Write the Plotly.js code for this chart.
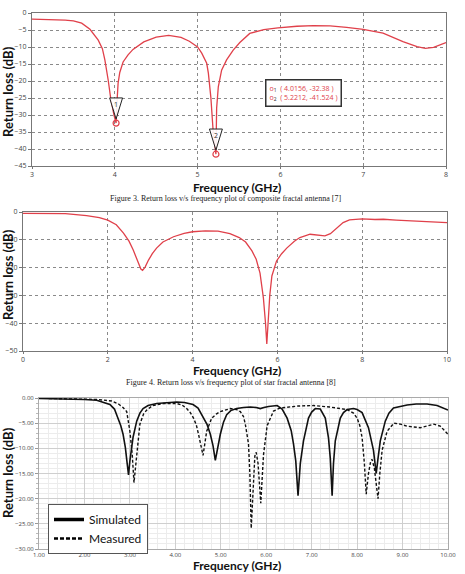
<!DOCTYPE html>
<html><head><meta charset="utf-8">
<script src="https://cdn.plot.ly/plotly-3.0.1.min.js"></script>
<style>body{margin:0;background:#fff}</style>
</head><body><div id="chart" style="width:465px;height:574px"></div>
<script>
// ---------- Figure 3: composite fractal antenna ----------
const freq1 = [3.0,3.2,3.4,3.5,3.6,3.7,3.8,3.85,3.88,3.92,3.95,3.99,4.0156,4.03,4.04,4.06,4.1,4.16,4.22,4.35,4.5,4.65,4.8,4.9,5.0,5.05,5.11,5.13,5.16,5.19,5.2212,5.23,5.25,5.29,5.35,5.43,5.51,5.63,5.8,5.97,6.2,6.4,6.6,6.8,7.0,7.24,7.48,7.65,7.75,7.85,8.0];
const rl1   = [-1.8,-1.9,-2.1,-2.3,-3.0,-4.8,-8.0,-10.5,-13.8,-19.7,-25,-30,-32.38,-24.8,-20.6,-17.5,-14.4,-12.3,-10.7,-8.5,-7.1,-6.6,-7.2,-8.3,-10,-11.8,-14.8,-17.7,-24.8,-35.5,-41.524,-28,-21.7,-16.8,-13.8,-10.9,-8.7,-6.0,-4.9,-4.4,-3.9,-3.7,-3.8,-4.2,-4.8,-5.9,-8.4,-9.9,-10.4,-10.1,-8.7];
const markerFreq1 = [4.0156, 5.2212];
const markerRL1 = [-32.38, -41.524];
const markerIds1 = ['1', '2'];
const yTicks1 = [0,-5,-10,-15,-20,-25,-30,-35,-40,-45];
const xTicks1 = [3,4,5,6,7,8];

// ---------- Figure 4: star fractal antenna ----------
const freq2 = [0,0.5,1.0,1.5,1.8,2.0,2.2,2.37,2.5,2.6,2.7,2.78,2.82,2.88,2.96,3.05,3.15,3.3,3.55,3.8,4.0,4.3,4.6,4.88,5.1,5.25,5.4,5.5,5.59,5.67,5.72,5.75,5.78,5.82,5.87,5.98,6.1,6.22,6.4,6.53,6.77,6.95,7.12,7.25,7.4,7.55,7.7,8.0,8.3,8.5,8.8,9.2,9.6,10.0];
const rl2   = [-0.5,-0.5,-0.6,-1.3,-2.0,-2.9,-4.6,-7.6,-10.5,-13.7,-17.5,-20.5,-21,-19.8,-17.3,-15,-13,-10.8,-8.9,-7.7,-7.1,-6.8,-6.9,-7.8,-9.2,-10.8,-14,-17,-22,-31,-40,-47.5,-40,-30,-23,-17.6,-15,-13,-10.5,-9.2,-8.0,-8.2,-8.6,-7.8,-5.9,-3.8,-2.8,-2.5,-2.7,-2.6,-2.9,-3.2,-3.5,-3.8];
const yTicks2 = [0,-10,-20,-30,-40,-50];
const xTicks2 = [0,2,4,6,8,10];

// ---------- Figure 5: simulated vs measured ----------
const freqSim3 = [1.0,1.5,2.0,2.27,2.45,2.56,2.66,2.74,2.8,2.85,2.9,2.94,2.97,3.0,3.04,3.07,3.15,3.22,3.29,3.4,3.59,3.81,4.03,4.2,4.39,4.5,4.61,4.7,4.77,4.83,4.88,4.93,4.99,5.06,5.13,5.22,5.35,5.5,5.65,5.78,5.87,5.95,6.05,6.24,6.35,6.46,6.55,6.6,6.65,6.7,6.75,6.82,6.93,7.0,7.08,7.19,7.3,7.37,7.41,7.45,7.48,7.52,7.63,7.7,7.78,7.92,8.0,8.11,8.25,8.36,8.42,8.46,8.51,8.62,8.7,8.8,9.1,9.3,9.54,9.76,9.94,10.0];
const rlSim3   = [-0.1,-0.15,-0.3,-0.45,-0.9,-1.3,-2.2,-4.0,-5.5,-7.2,-9.8,-13,-15.3,-12.5,-9.5,-7.8,-4.6,-3,-2.1,-1.5,-1.1,-1.0,-0.8,-0.9,-1.3,-2,-3.7,-5.3,-7.2,-9.5,-12.4,-10,-7.2,-4.8,-3.3,-2.5,-2.1,-1.9,-1.8,-1.9,-2.1,-1.9,-1.7,-1.5,-2.2,-4.0,-6.5,-9.1,-12.5,-19.4,-13,-8.5,-4.0,-2.8,-2.1,-2.2,-4.0,-7.9,-12,-19.4,-13,-8.5,-4.0,-2.9,-2.3,-2.1,-2.3,-2.9,-5.9,-10.4,-15.0,-12,-8.5,-4.6,-3,-2.0,-1.4,-1.2,-1.2,-1.5,-2.1,-2.4];
const freqMeas3 = [1.0,1.5,2.0,2.3,2.6,2.75,2.85,2.93,3.0,3.05,3.09,3.12,3.15,3.18,3.22,3.3,3.37,3.5,3.74,4.03,4.15,4.25,4.33,4.40,4.46,4.51,4.56,4.61,4.65,4.69,4.8,4.9,4.99,5.21,5.35,5.43,5.5,5.54,5.61,5.64,5.67,5.71,5.75,5.78,5.82,5.88,5.94,6.02,6.16,6.3,6.46,6.7,7.04,7.4,7.78,7.92,8.0,8.06,8.11,8.16,8.2,8.25,8.3,8.33,8.38,8.42,8.46,8.5,8.55,8.66,8.81,8.95,9.1,9.39,9.55,9.69,9.83,9.94,10.0];
const rlMeas3   = [-0.05,-0.1,-0.2,-0.3,-0.6,-1.2,-1.9,-2.7,-6.6,-11,-16.8,-14,-11.7,-8,-5.2,-3.2,-2.4,-1.5,-1.1,-1.1,-1.4,-2.1,-2.9,-4.0,-5.3,-7.2,-9.3,-11.4,-9,-6.6,-4.0,-3.2,-2.7,-2.1,-2.3,-2.7,-3.7,-5.2,-9.1,-15,-25.9,-17,-11.5,-10.8,-13,-20.9,-11.3,-5.5,-2.6,-2.0,-1.8,-1.6,-1.5,-1.8,-2.3,-3,-4.0,-5.5,-7.9,-13,-19.1,-15,-12.5,-12.2,-14,-17.5,-20.0,-15,-10.4,-6.6,-5.0,-5.2,-5.6,-5.9,-5.5,-5.2,-5.6,-6.6,-7.2];
const seriesNames3 = ['Simulated', 'Measured'];
const yTicks3 = [0,-5,-10,-15,-20,-25,-30];
const xTicks3 = [1,2,3,4,5,6,7,8,9,10];

const captions = ['Figure 3. Return loss v/s frequency plot of composite fractal antenna [7]',
                  'Figure 4. Return loss v/s frequency plot of star fractal antenna [8]'];

// ---------- layout helpers ----------
const W = 465, H = 574;
const X = p => p / W;
const Y = p => 1 - p / H;
const RED = '#e0404a';
const titleFont = {family: 'Lato, sans-serif', size: 13, color: '#111', weight: 'bold'};
const xTitleFont = {family: 'Lato, sans-serif', size: 12, color: '#111', weight: 'bold'};

const traces = [];
traces.push({x: freq1, y: rl1, xaxis: 'x', yaxis: 'y', mode: 'lines', line: {color: RED, width: 1.3}, showlegend: false, hoverinfo: 'skip'});
traces.push({x: markerFreq1, y: markerRL1, xaxis: 'x', yaxis: 'y', mode: 'markers', marker: {symbol: 'circle-open', color: RED, size: 6, line: {width: 1.2}}, showlegend: false});
traces.push({x: freq2, y: rl2, xaxis: 'x2', yaxis: 'y2', mode: 'lines', line: {color: RED, width: 1.3}, showlegend: false});
traces.push({x: freqSim3, y: rlSim3, xaxis: 'x3', yaxis: 'y3', mode: 'lines', line: {color: '#111', width: 1.6}, showlegend: false});
traces.push({x: freqMeas3, y: rlMeas3, xaxis: 'x3', yaxis: 'y3', mode: 'lines', line: {color: '#111', width: 1.4, dash: '3px,2px'}, showlegend: false});
// legend-only samples (thicker, as in the figure's legend)
traces.push({x: [null], y: [null], xaxis: 'x3', yaxis: 'y3', mode: 'lines', name: seriesNames3[0], line: {color: '#000', width: 3.5}});
traces.push({x: [null], y: [null], xaxis: 'x3', yaxis: 'y3', mode: 'lines', name: seriesNames3[1], line: {color: '#000', width: 2.5, dash: '4px,2px'}});

const dotAxis = (domain, range, tickvals, anchor) => ({
  domain, range, tickvals, anchor, showgrid: true, gridcolor: '#8a8a8a', griddash: 'dot', gridwidth: 1,
  showline: true, linecolor: '#777', linewidth: 1, mirror: true, ticks: 'outside', ticklen: 3, tickcolor: '#777',
  zeroline: false, tickfont: {family: 'Open Sans, sans-serif', size: 7, color: '#444'}
});

const layout = {
  width: W, height: H, margin: {l: 0, r: 0, t: 0, b: 0}, paper_bgcolor: '#fff', plot_bgcolor: '#fff',
  xaxis: Object.assign(dotAxis([X(32), X(446)], [3, 8], xTicks1, 'y'), {ticklen: 2}),
  yaxis: dotAxis([Y(166), Y(13)], [-45, 0], yTicks1, 'x'),
  xaxis2: Object.assign(dotAxis([X(23), X(447)], [0, 10], xTicks2, 'y2'), {ticklen: 2}),
  yaxis2: dotAxis([Y(351), Y(212)], [-50, 0], yTicks2, 'x2'),
  xaxis3: {domain: [X(39), X(448)], range: [1, 10], tickvals: xTicks3, anchor: 'y3', tickformat: '.2f',
    showgrid: true, gridcolor: '#cfcfcf', showline: true, linecolor: '#aaa', mirror: true, zeroline: false,
    ticks: 'inside', ticklen: 0, tickfont: {family: 'Open Sans, sans-serif', size: 6, color: '#444'},
    minor: {dtick: 0.2, showgrid: true, gridcolor: '#ececec'}},
  yaxis3: {domain: [Y(549), Y(398)], range: [-30, 0], tickvals: yTicks3, anchor: 'x3', tickformat: '.2f',
    showgrid: true, gridcolor: '#cfcfcf', showline: true, linecolor: '#aaa', mirror: true, zeroline: false,
    ticks: 'outside', ticklen: 3, tickcolor: '#999', tickfont: {family: 'Open Sans, sans-serif', size: 6, color: '#444'},
    minor: {dtick: 1, showgrid: true, gridcolor: '#ececec', ticks: 'outside', ticklen: 2, tickcolor: '#bbb'}},
  legend: {x: X(48), y: Y(504), xanchor: 'left', yanchor: 'top', bgcolor: '#fff', bordercolor: '#555', borderwidth: 1,
    font: {family: 'Lato, sans-serif', size: 12, color: '#111'}, itemwidth: 30, tracegroupgap: 0},
  shapes: [], annotations: []
};

// marker callout triangles (figure 3), positioned relative to the marked minima
markerFreq1.forEach((f, i) => {
  const v = markerRL1[i];
  const hw = 0.078;
  layout.shapes.push({type: 'path', xref: 'x', yref: 'y',
    path: `M ${f - hw} ${v + 7.4} L ${f + hw} ${v + 7.4} L ${f} ${v + 1.2} Z`,
    line: {color: '#222', width: 1}, fillcolor: 'rgba(255,255,255,0.9)'});
  layout.annotations.push({xref: 'x', yref: 'y', x: f, y: v + 5.6, text: markerIds1[i], showarrow: false,
    font: {family: 'Open Sans, sans-serif', size: 7, color: '#333'}});
});
// marker readout box
const readout = markerFreq1.map((f, i) =>
  `<span style="color:${RED}">o</span><sub>${markerIds1[i]}</sub>  <span style="color:${RED}">( ${f}, ${markerRL1[i]} )</span>`).join('<br>');
layout.annotations.push({xref: 'paper', yref: 'paper', x: X(265), y: Y(79), xanchor: 'left', yanchor: 'top', text: readout,
  showarrow: false, align: 'left', bgcolor: '#fff', bordercolor: '#333', borderwidth: 1.5, borderpad: 3,
  font: {family: 'Open Sans, sans-serif', size: 7, color: '#222'}});

// axis titles and captions
const addText = (text, xp, yp, font, extra) => layout.annotations.push(Object.assign({xref: 'paper', yref: 'paper', x: X(xp), y: Y(yp), text, showarrow: false, font, xanchor: 'center', yanchor: 'middle'}, extra || {}));
addText('Return loss (dB)', 8, 92, titleFont, {textangle: -90});
addText('Frequency (GHz)', 237, 187, xTitleFont);
addText(captions[0], 225, 198.5, {family: 'Liberation Serif, serif', size: 8, color: '#222'});
addText('Return loss (dB)', 8, 275, titleFont, {textangle: -90});
addText('Frequency (GHz)', 237, 370.5, xTitleFont);
addText(captions[1], 231, 382, {family: 'Liberation Serif, serif', size: 8, color: '#222'});
addText('Return loss (dB)', 8, 473, titleFont, {textangle: -90});
addText('Frequency (GHz)', 237, 574, xTitleFont, {yanchor: 'bottom', borderpad: 0});

Plotly.newPlot('chart', traces, layout, {staticPlot: true, displayModeBar: false});
</script></body></html>
